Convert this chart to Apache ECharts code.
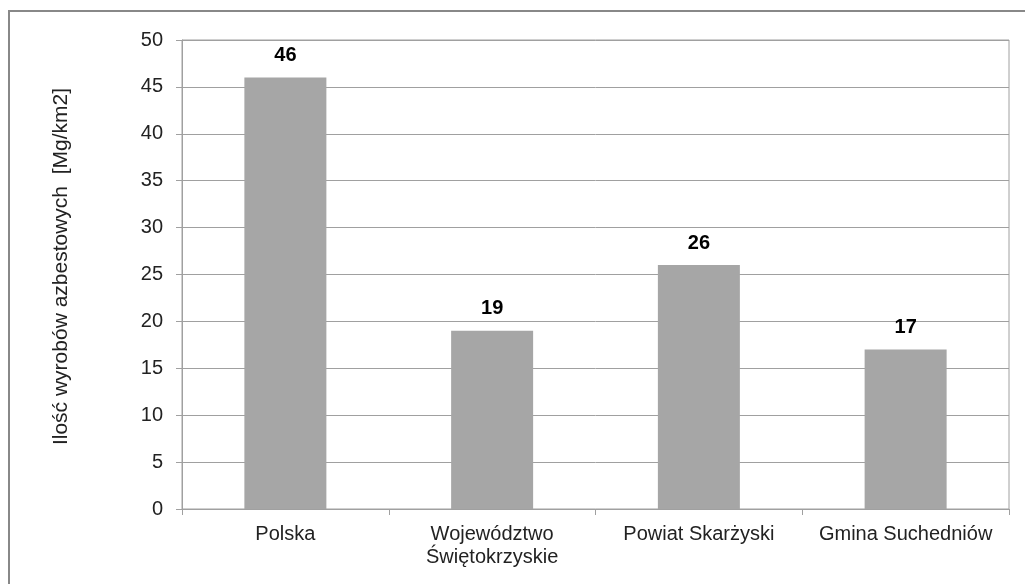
<!DOCTYPE html>
<html>
<head>
<meta charset="utf-8">
<script src="https://cdn.jsdelivr.net/npm/echarts@6/dist/echarts.min.js"></script>
<style>
  html, body { margin: 0; padding: 0; background: #fff; }
  #chart { width: 1025px; height: 584px; }
</style>
</head>
<body>
<div id="chart"></div>
<script>
const categories = ["Polska", "Województwo\nŚwiętokrzyskie", "Powiat Skarżyski", "Gmina Suchedniów"]
const values = [46, 19, 26, 17]
const yTicks = { min: 0, max: 50, interval: 5 }

const chart = echarts.init(document.getElementById("chart"), null, { renderer: "canvas" })
const font = "Liberation Sans, Arial, sans-serif"
const gray = "#a0a0a0"

chart.setOption({
  animation: false,
  textStyle: { fontFamily: font },
  graphic: [
    {
      type: "rect",
      shape: { x: 9, y: 11, width: 1040, height: 600 },
      style: { fill: "none", stroke: "#888", lineWidth: 2 },
      silent: true
    }
  ],
  grid: {
    left: 182, top: 40, right: 16, bottom: 75,
    show: true, borderColor: gray, borderWidth: 1, backgroundColor: "transparent"
  },
  xAxis: {
    type: "category",
    data: categories,
    axisLine: { lineStyle: { color: gray } },
    axisTick: { show: true, length: 6, interval: 0, lineStyle: { color: gray } },
    axisLabel: { color: "#222", fontSize: 20, margin: 14, lineHeight: 23, interval: 0, fontFamily: font }
  },
  yAxis: {
    type: "value",
    min: yTicks.min,
    max: yTicks.max,
    interval: yTicks.interval,
    name: "Ilość wyrobów azbestowych  [Mg/km2]",
    nameLocation: "middle",
    nameGap: 110,
    nameTextStyle: { color: "#222", fontSize: 21, fontFamily: font, padding: [0, 0, 0, 16] },
    axisLine: { show: true, lineStyle: { color: gray } },
    axisTick: { show: true, length: 6, lineStyle: { color: gray } },
    axisLabel: { color: "#222", fontSize: 20, margin: 19, fontFamily: font },
    splitLine: { lineStyle: { color: gray, width: 1 } }
  },
  series: [
    {
      type: "bar",
      data: values,
      barWidth: 82,
      itemStyle: { color: "#a6a6a6" },
      label: {
        show: true,
        position: "top",
        distance: 12,
        color: "#000",
        fontWeight: "bold",
        fontSize: 20,
        fontFamily: font
      }
    }
  ]
})
</script>
</body>
</html>
